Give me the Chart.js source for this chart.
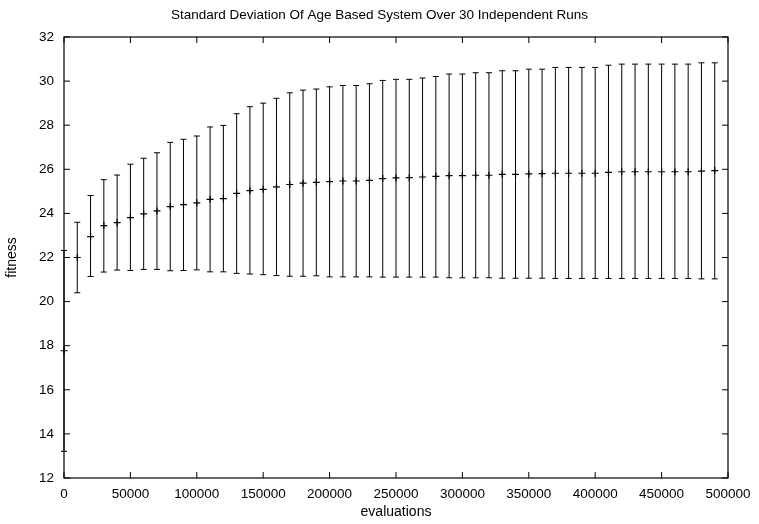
<!DOCTYPE html>
<html>
<head>
<meta charset="utf-8">
<script src="https://cdn.jsdelivr.net/npm/chart.js@4/dist/chart.umd.min.js"></script>
<style>
  body { margin: 0; background: #fff; }
  canvas { display: block; }
</style>
</head>
<body>
<canvas id="sdChart" width="759" height="524"></canvas>
<script>
// evaluations (x) and fitness statistics over the 30 runs
const evaluations = [
  0, 10000, 20000, 30000, 40000, 50000, 60000, 70000, 80000, 90000,
  100000, 110000, 120000, 130000, 140000, 150000, 160000, 170000, 180000, 190000,
  200000, 210000, 220000, 230000, 240000, 250000, 260000, 270000, 280000, 290000,
  300000, 310000, 320000, 330000, 340000, 350000, 360000, 370000, 380000, 390000,
  400000, 410000, 420000, 430000, 440000, 450000, 460000, 470000, 480000, 490000
];
const meanFitness = [
  17.77, 22.00, 22.95, 23.45, 23.58, 23.81, 23.98, 24.11, 24.31, 24.40,
  24.48, 24.64, 24.67, 24.91, 25.03, 25.09, 25.20, 25.31, 25.37, 25.41,
  25.44, 25.47, 25.47, 25.50, 25.58, 25.61, 25.62, 25.65, 25.68, 25.71,
  25.71, 25.73, 25.73, 25.77, 25.77, 25.79, 25.80, 25.82, 25.82, 25.82,
  25.82, 25.86, 25.89, 25.89, 25.89, 25.89, 25.89, 25.89, 25.92, 25.94
];
const upperFitness = [
  22.32, 23.60, 24.81, 25.53, 25.74, 26.23, 26.50, 26.75, 27.22, 27.36,
  27.51, 27.92, 27.99, 28.52, 28.84, 29.00, 29.22, 29.47, 29.59, 29.64,
  29.74, 29.80, 29.80, 29.88, 30.03, 30.08, 30.08, 30.14, 30.21, 30.32,
  30.32, 30.38, 30.38, 30.47, 30.47, 30.54, 30.54, 30.62, 30.62, 30.62,
  30.62, 30.72, 30.77, 30.77, 30.77, 30.77, 30.77, 30.77, 30.83, 30.83
];
const lowerFitness = [
  13.21, 20.40, 21.14, 21.34, 21.43, 21.41, 21.46, 21.46, 21.40, 21.41,
  21.44, 21.35, 21.35, 21.28, 21.25, 21.22, 21.18, 21.15, 21.15, 21.17,
  21.12, 21.12, 21.12, 21.12, 21.11, 21.11, 21.11, 21.11, 21.11, 21.08,
  21.08, 21.08, 21.08, 21.06, 21.06, 21.06, 21.06, 21.05, 21.05, 21.05,
  21.05, 21.05, 21.05, 21.05, 21.05, 21.05, 21.05, 21.05, 21.03, 21.03
];
const xTicks = [0, 50000, 100000, 150000, 200000, 250000, 300000, 350000, 400000, 450000, 500000];
const yTicks = [12, 14, 16, 18, 20, 22, 24, 26, 28, 30, 32];

const FONT = "'Liberation Sans', Arial, Helvetica, sans-serif";
const TITLE = "Standard Deviation Of Age Based System Over 30 Independent Runs";

// vertical bars with small caps, from lower to upper
const errorBarsPlugin = {
  id: "errorBars",
  afterDatasetsDraw(chart) {
    const ctx = chart.ctx;
    const xs = chart.scales.x;
    const ys = chart.scales.y;
    ctx.save();
    ctx.strokeStyle = "#000";
    ctx.lineWidth = 1;
    evaluations.forEach((ev, i) => {
      const px = xs.getPixelForValue(ev);
      const top = ys.getPixelForValue(upperFitness[i]);
      const bot = ys.getPixelForValue(lowerFitness[i]);
      ctx.beginPath();
      ctx.moveTo(px, top);
      ctx.lineTo(px, bot);
      ctx.moveTo(px - 3, top);
      ctx.lineTo(px + 3, top);
      ctx.moveTo(px - 3, bot);
      ctx.lineTo(px + 3, bot);
      ctx.stroke();
    });
    ctx.restore();
  }
};

// gnuplot style frame with ticks pointing inward on every side, title centred on the canvas
const framePlugin = {
  id: "frame",
  afterDraw(chart) {
    const { ctx, chartArea: a } = chart;
    const xs = chart.scales.x;
    const ys = chart.scales.y;
    const len = 6;
    ctx.save();
    ctx.strokeStyle = "#000";
    ctx.lineWidth = 1.2;
    ctx.strokeRect(a.left, a.top, a.right - a.left, a.bottom - a.top);
    ctx.lineWidth = 1;
    ctx.beginPath();
    xTicks.forEach(v => {
      const px = xs.getPixelForValue(v);
      ctx.moveTo(px, a.bottom);
      ctx.lineTo(px, a.bottom - len);
      ctx.moveTo(px, a.top);
      ctx.lineTo(px, a.top + len);
    });
    yTicks.forEach(v => {
      const py = ys.getPixelForValue(v);
      ctx.moveTo(a.left, py);
      ctx.lineTo(a.left + len, py);
      ctx.moveTo(a.right, py);
      ctx.lineTo(a.right - len, py);
    });
    ctx.stroke();

    ctx.fillStyle = "#000";
    ctx.font = "13.5px " + FONT;
    ctx.textAlign = "center";
    ctx.textBaseline = "middle";
    ctx.fillText(TITLE, chart.width / 2, 15);
    ctx.restore();
  }
};

const ctx = document.getElementById("sdChart").getContext("2d");
new Chart(ctx, {
  type: "scatter",
  data: {
    datasets: [{
      label: "mean",
      data: evaluations.map((ev, i) => ({ x: ev, y: meanFitness[i] })),
      pointStyle: "cross",
      pointRadius: 3.5,
      pointBorderWidth: 1.2,
      borderColor: "#000",
      backgroundColor: "#000",
      clip: false
    }]
  },
  options: {
    responsive: false,
    devicePixelRatio: 1,
    animation: false,
    layout: { padding: { left: 0, right: 31, top: 37, bottom: 0 } },
    plugins: {
      legend: { display: false },
      tooltip: { enabled: false },
      title: { display: false }
    },
    scales: {
      x: {
        type: "linear",
        min: 0,
        max: 500000,
        afterFit: s => { s.height = 46; },
        afterBuildTicks: s => { s.ticks = xTicks.map(v => ({ value: v })); },
        grid: { display: false, drawTicks: false },
        border: { display: false },
        ticks: {
          color: "#000",
          padding: 8,
          font: { family: FONT, size: 13.5 },
          callback: v => String(v)
        },
        title: {
          display: true,
          text: "evaluations",
          color: "#000",
          font: { family: FONT, size: 14 },
          padding: { top: 0, bottom: 3 }
        }
      },
      y: {
        min: 12,
        max: 32,
        afterFit: s => { s.width = 64; },
        afterBuildTicks: s => { s.ticks = yTicks.map(v => ({ value: v })); },
        grid: { display: false, drawTicks: false },
        border: { display: false },
        ticks: {
          color: "#000",
          padding: 10,
          font: { family: FONT, size: 13.5 },
          callback: v => String(v)
        },
        title: {
          display: true,
          text: "fitness",
          color: "#000",
          font: { family: FONT, size: 14 },
          padding: { top: 4, bottom: 0 }
        }
      }
    }
  },
  plugins: [errorBarsPlugin, framePlugin]
});
</script>
</body>
</html>
